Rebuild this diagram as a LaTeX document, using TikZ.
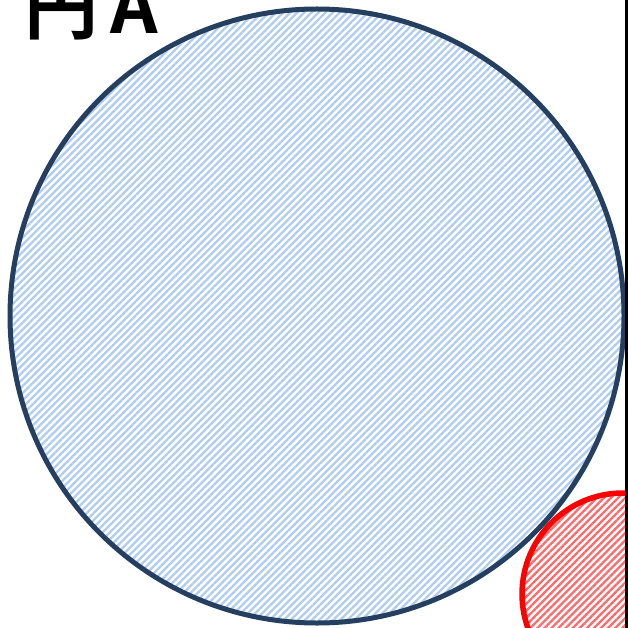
\documentclass[tikz,border=0pt]{standalone}
\usepackage{fontspec}
\newfontfamily\jpfont{Noto Sans CJK JP Bold}
\usetikzlibrary{patterns.meta}

\definecolor{navyedge}{HTML}{243F60}
\definecolor{paleblue}{HTML}{B0CCF0}
\definecolor{stripered}{HTML}{FF6A6A}

\begin{document}
\begin{tikzpicture}[
    x=1pt, y=-1pt, % one unit = one pixel, y downwards
    hatchblue/.style={pattern={Lines[angle=45, distance=5pt, line width=2.3pt]}, pattern color=paleblue},
    hatchred/.style={pattern={Lines[angle=45, distance=5pt, line width=2.3pt]}, pattern color=stripered},
    title/.style={font=\jpfont\fontsize{74}{74}\selectfont, inner sep=0pt, anchor=base west}
]
\useasboundingbox (0,0) rectangle (628,628);

% Centres of the two circles
\coordinate (cA) at (317,316);
\coordinate (cB) at (623,594);

% Circle A
\filldraw[hatchblue, draw=navyedge, line width=5pt] (cA) circle (307pt);

% Second circle, cut at the border line
\begin{scope}
  \clip (0,0) rectangle (626,628);
  \filldraw[hatchred, draw=red, line width=5.5pt] (cB) circle (101pt);
\end{scope}

% Border line on the right
\coordinate (top) at (626,0);
\coordinate (bot) at (626,628);
\draw[line width=3pt] (top) -- (bot);

% Label
\node[title] (lblA) at (24,34) {円\hspace{12pt}A};

\end{tikzpicture}
\end{document}
